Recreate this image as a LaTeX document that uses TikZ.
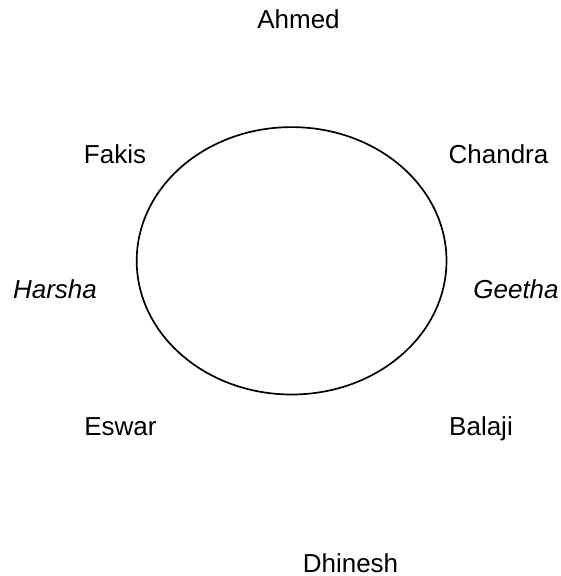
\documentclass[tikz,border=0pt]{standalone}
\usepackage{fontspec}
\setmainfont{Liberation Sans}
\begin{document}
\begin{tikzpicture}[x=1pt,y=-1pt,
  lbl/.style={anchor=base,inner sep=0pt,font=\fontsize{26}{30}\selectfont},
  ilbl/.style={lbl,font=\fontsize{26}{30}\selectfont\itshape}]
\useasboundingbox (0,0) rectangle (560,576);
\draw[line width=1.7pt] (291.6,260.8) ellipse [x radius=154.9, y radius=133.7];
\node[lbl] (ahmed) at (298.5,28.6) {Ahmed};
\node[lbl] (fakis) at (115,163) {Fakis};
\node[lbl] (chandra) at (498.5,163) {Chandra};
\node[ilbl] (harsha) at (55,298.5) {Harsha};
\node[ilbl] (geetha) at (516,298.5) {Geetha};
\node[lbl] (eswar) at (120.5,435) {Eswar};
\node[lbl] (balaji) at (481,435) {Balaji};
\node[lbl] (dhinesh) at (350.5,572) {Dhinesh};
\end{tikzpicture}
\end{document}
